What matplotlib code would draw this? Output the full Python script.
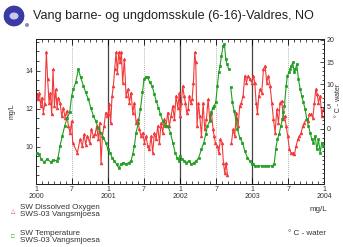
import matplotlib
matplotlib.use('Agg')
import matplotlib.pyplot as plt
import numpy as np
from matplotlib.patches import Ellipse

plt.rcParams['font.family'] = ['Liberation Sans', 'DejaVu Sans']

# months since Jan 2000
oxy_month = [0.11, 0.33, 0.56, 0.78, 1.0, 1.22, 1.44, 1.72, 1.94, 2.17, 2.39, 2.61, 2.83, 3.06, 3.28, 3.5,
             3.72, 4.0, 4.28, 4.56, 4.83, 5.11, 5.39, 5.67, 5.94, 6.11, 6.89, 7.33, 7.72, 8.0, 8.28, 8.56,
             8.94, 9.22, 9.56, 9.83, 10.11, 10.39, 10.61, 10.83, 11.06, 11.33, 11.61, 11.89,
             12.0, 12.22, 12.44, 12.67, 12.89, 13.11, 13.33, 13.56, 13.78, 14.0, 14.22, 14.44, 14.72, 15.0,
             15.28, 15.56, 15.83, 16.11, 16.39, 16.67, 16.94, 17.22, 17.5, 17.78, 18.06, 18.33, 18.61, 18.89,
             19.17, 19.44, 19.72, 20.0, 20.28, 20.56, 20.83, 21.11, 21.39, 21.67, 21.94, 22.22, 22.5, 22.78,
             23.06, 23.33, 23.61, 23.89,
             24.0, 24.22, 24.44, 24.67, 24.89, 25.11, 25.33, 25.56, 25.78, 26.0, 26.22, 26.44, 26.61, 26.83,
             27.06, 27.28, 27.56, 27.83, 28.11, 28.39, 28.67, 28.94, 29.22, 29.5, 29.67, 29.89, 30.22, 30.44,
             30.72, 31.0, 31.22, 31.44, 31.67, 31.89, 32.2, 32.56, 32.83, 33.11, 33.39, 33.67, 33.94, 34.22,
             34.5, 34.78, 35.06, 35.33, 35.61, 36.0,
             36.22, 36.44, 36.67, 36.89, 37.11, 37.33, 37.61, 37.89, 38.17, 38.44, 38.72, 39.0, 39.28, 39.56,
             39.83, 40.11, 40.39, 40.67, 40.94, 41.22, 41.44, 41.67, 41.94, 42.22, 42.5, 42.78, 43.06, 43.33,
             43.61, 43.89, 44.17, 44.44, 44.72, 45.0, 45.28, 45.56, 45.83, 46.11, 46.39, 46.61, 46.83, 47.06,
             47.33, 47.61, 47.89]
oxygen = [12.75, 12.49, 12.84, 12.14, 12.58, 11.79, 12.23, 14.98, 13.54, 12.32, 12.84, 11.70, 14.07, 12.14, 13.02, 12.05,
          12.58, 12.32, 11.61, 12.05, 11.53, 11.88, 11.09, 10.74, 11.35, 10.21, 9.68, 10.39, 10.04, 10.65, 10.12, 10.56,
          10.21, 10.91, 10.56, 10.65, 11.09, 10.39, 11.26, 9.16, 10.56, 11.09, 11.79, 11.61,
          11.70, 12.23, 11.26, 12.67, 13.19, 14.07, 14.95, 13.89, 14.95, 14.42, 14.95, 13.37, 14.60, 12.67,
          13.02, 12.32, 12.84, 11.79, 12.32, 11.26, 11.44, 10.91, 10.56, 10.74, 10.21, 10.56, 10.04, 9.86,
          10.56, 9.68, 10.74, 10.39, 11.09, 10.21, 11.26, 10.74, 11.44, 11.09, 11.79, 11.09, 11.61, 12.14,
          11.44, 12.67, 12.05, 12.84,
          11.61, 12.32, 13.19, 12.67, 12.32, 11.79, 11.96, 12.67, 12.32, 12.49, 13.37, 14.95, 14.42, 11.09,
          12.32, 11.61, 10.56, 12.32, 10.91, 11.44, 12.49, 11.44, 11.79, 10.91, 10.56, 10.21, 10.04, 9.68,
          10.39, 10.21, 9.16, 8.63, 9.16, 8.54, np.nan, 10.21, 10.91, 10.56, 11.79, 11.09, 12.14, 12.32,
          12.67, 13.72, 13.37, 13.72, 13.54, 13.37,
          13.72, 13.37, 12.32, 11.79, 12.67, 13.02, 12.84, 14.07, 14.25, 13.37, 13.72, 13.19, 12.32, 11.44,
          10.74, 11.96, 11.26, 12.32, 12.40, 11.44, 11.61, 11.09, 10.56, 9.86, 9.68, 9.68, 9.60, 10.04,
          10.39, 10.56, 10.74, 11.09, 11.26, 11.44, 11.35, 11.70, 11.70, 11.53, 12.32, 13.02, 12.75, 12.32,
          12.67, 11.61, 11.96]

temp_month = [0.11, 0.5, 0.89, 1.33, 1.89, 2.44, 2.89, 3.44, 3.67, 4.0, 4.39, 4.78, 5.22, 5.61, 5.94, 6.22,
              6.61, 7.06, 7.44, 7.89, 8.28, 8.72, 9.11, 9.56, 9.94, 10.33, 10.78, 11.22, 11.61,
              12.0, 12.33, 12.67, 13.06, 13.44, 13.78, 14.17, 14.56, 15.0, 15.44, 15.83, 16.11, 16.39, 16.67,
              17.06, 17.39, 17.72, 18.0, 18.28, 18.61, 18.94, 19.33, 19.72, 20.0, 20.39, 20.72, 21.11, 21.5,
              21.94, 22.39, 22.78, 23.17, 23.5, 23.89,
              24.0, 24.33, 24.67, 25.06, 25.44, 25.89, 26.33, 26.72, 27.11, 27.56, 27.94, 28.28, 28.56, 28.94,
              29.22, 29.44, 29.67, 29.94, 30.22, 30.44, 30.67, 30.89, 31.17, 31.39, 31.61, 31.83, 32.11, 32.3,
              32.44, 32.72, 33.0, 33.28, 33.56, 33.94, 34.39, 34.78, 35.22, 35.61, 36.0,
              36.22, 36.5, 37.06, 37.61, 38.17, 38.72, 39.28, 39.67, 39.94, 40.22, 40.5, 40.78, 41.06, 41.22,
              41.39, 41.67, 41.89, 42.11, 42.33, 42.56, 42.78, 43.0, 43.22, 43.44, 43.72, 44.0, 44.28, 44.56,
              44.83, 45.11, 45.39, 45.67, 45.94, 46.22, 46.5, 46.78, 47.06, 47.33, 47.61, 47.89]
temperature = [-5.33, -5.71, -6.83, -7.43, -6.83, -7.43, -6.98, -7.21, -6.46, -3.83, -1.58, 0.68, 2.55, 3.68, 7.43, 8.93,
               10.44, 13.44, 11.56, 9.68, 8.18, 6.68, 4.80, 2.93, 1.80, 0.30, -0.83, -1.95, -3.08,
               -4.58, -5.33, -6.46, -7.21, -7.96, -8.8, -7.96, -7.58, -7.96, -7.58, -7.21, -5.71, -3.83, -0.83,
               1.43, 4.43, 8.18, 11.19, 11.71, 11.56, 10.44, 9.68, 7.81, 6.31, 4.80, 3.30, 1.80, 0.68,
               0.68, -0.83, -3.08, -5.33, -6.46, -7.21,
               -6.08, -6.83, -7.21, -7.58, -7.21, -7.96, -7.58, -7.21, -6.46, -4.58, -3.08, -1.20, 0.68, 1.80,
               3.68, 4.80, 5.18, 5.93, 9.68, 12.69, 14.19, 16.44, 18.69, 19.07, 15.69, 14.56, 13.44, np.nan,
               9.31, 5.93, 4.05, 2.18, -0.08, -1.95, -3.08, -4.95, -6.46, -7.21, -7.96,
               -7.96, -8.33, -8.33, -8.33, -8.33, -8.33, -8.33, -7.96, -4.58, -2.33, -1.20, 0.68, 2.18, 3.68,
               5.18, 9.68, 11.94, 12.69, 13.44, 14.19, 14.94, 12.69, 13.44, 14.56, 11.19, 8.93, 7.43, 5.93,
               4.43, 2.18, 0.68, -0.83, -2.33, -3.08, -1.58, -4.58, -2.33, -5.33, -3.08, -3.83]

year_labels = ['2000', '2001', '2002', '2003', '2004']
red = '#f23a3a'
green = '#1f9e1f'
txt = '#333333'

fig = plt.figure(figsize=(3.43, 2.47), dpi=100)
ax = fig.add_axes([0.105, 0.255, 0.84, 0.587])
ax2 = ax.twinx()

ax.plot(oxy_month, oxygen, color=red, lw=0.8, marker='^', ms=2.0, mew=0.5, zorder=3)
ax2.plot(temp_month, temperature, color=green, lw=0.8, marker='s', ms=1.8, mew=0.5, zorder=3)

for m in [12, 24, 36]:
    ax.axvline(m, color='#444444', lw=0.9, zorder=1)
for m in [6, 18, 30, 42]:
    ax.axvline(m, color='#999999', lw=0.6, ls=(0, (1, 1.5)), zorder=1)

ax.set_xlim(0, 48)
ax.set_ylim(8.05, 15.65)
ax2.set_ylim(-12.4, 20.2)

xt = list(range(0, 49, 6))
xl = []
for m in xt:
    if m % 12 == 0:
        xl.append('1\n' + year_labels[m // 12])
    else:
        xl.append('7')
ax.set_xticks(xt)
ax.set_xticklabels(xl, fontsize=5, color=txt, linespacing=0.9)
ax.set_xticks(range(0, 49), minor=True)
ax.tick_params(axis='x', which='both', direction='in', top=True, pad=1.5)
ax.tick_params(axis='x', which='major', length=4, width=0.6)
ax.tick_params(axis='x', which='minor', length=2, width=0.5)

ax.set_yticks([10, 12, 14])
ax.set_yticklabels(['10', '12', '14'], fontsize=5, color=txt)
ax.set_yticks(np.arange(8.5, 15.6, 0.5), minor=True)
ax.tick_params(axis='y', which='both', direction='in', pad=2, width=0.5)
ax.tick_params(axis='y', which='major', length=3)
ax.tick_params(axis='y', which='minor', length=1.8)

ax2.set_yticks([0, 5, 10, 15, 20])
ax2.set_yticklabels(['0', '5', '10', '15', '20'], fontsize=5, color=txt)
ax2.set_yticks(range(-12, 21), minor=True)
ax2.tick_params(axis='y', which='both', direction='in', pad=2, width=0.5)
ax2.tick_params(axis='y', which='major', length=3)
ax2.tick_params(axis='y', which='minor', length=1.8)

for a in (ax, ax2):
    for s in a.spines.values():
        s.set_linewidth(0.7)
        s.set_color('#222222')

# header logo + title
fig.add_artist(Ellipse((14 / 343, 1 - 16 / 247), 20 / 343, 20 / 247, transform=fig.transFigure,
                       facecolor='#3b3ba8', edgecolor='#2a2a80', lw=0.5))
fig.add_artist(Ellipse((14 / 343, 1 - 16 / 247), 9 / 343, 7 / 247, transform=fig.transFigure,
                       facecolor='#c8c8ec', edgecolor='none'))
fig.add_artist(Ellipse((27 / 343, 1 - 25 / 247), 4 / 343, 4 / 247, transform=fig.transFigure,
                       facecolor='#8a8ab8', edgecolor='none'))
fig.text(33 / 343, 1 - 16 / 247, 'Vang barne- og ungdomsskule (6-16)-Valdres, NO',
         fontsize=9.1, color='#222222', va='center', ha='left')

fig.text(12 / 343, 1 - 111 / 247, 'mg/L', fontsize=5, color=txt, rotation=90, va='center', ha='center')
fig.text(338.5 / 343, 1 - 100 / 247, '\u00b0 C - water', fontsize=5, color=txt, rotation=90,
         va='center', ha='center')

# legend
fig.text(13 / 343, 1 - 211 / 247, '\u25b3', fontsize=4, color=red, ha='center', va='center')
fig.text(20 / 343, 1 - 207 / 247, 'SW Dissolved Oxygen', fontsize=5.8, color=txt, ha='left', va='center')
fig.text(20 / 343, 1 - 214 / 247, 'SWS-03 Vangsmjoesa', fontsize=5.8, color=txt, ha='left', va='center')
fig.text(13 / 343, 1 - 236 / 247, '\u25a1', fontsize=4, color=green, ha='center', va='center')
fig.text(20 / 343, 1 - 233 / 247, 'SW Temperature', fontsize=5.8, color=txt, ha='left', va='center')
fig.text(20 / 343, 1 - 240 / 247, 'SWS-03 Vangsmjoesa', fontsize=5.8, color=txt, ha='left', va='center')
fig.text(327 / 343, 1 - 209 / 247, 'mg/L', fontsize=5.8, color=txt, ha='right', va='center')
fig.text(326 / 343, 1 - 233 / 247, '\u00b0 C - water', fontsize=5.8, color=txt, ha='right', va='center')

fig.savefig('out.png', dpi=100)
